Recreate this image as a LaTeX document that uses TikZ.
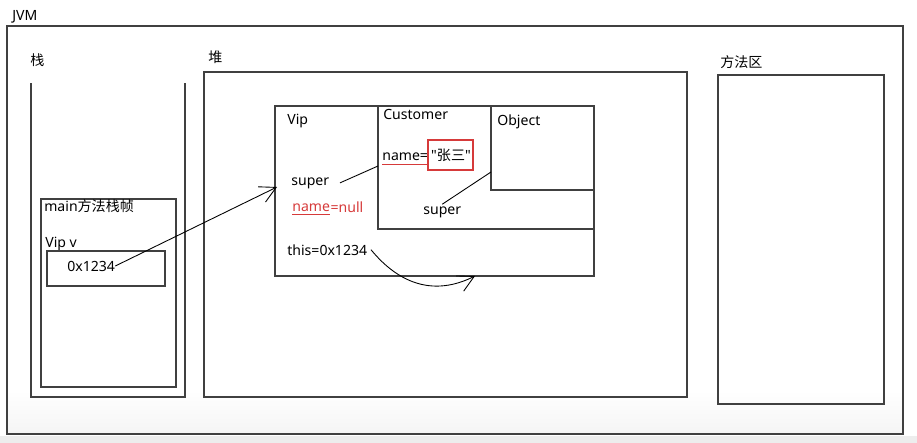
\documentclass[tikz,border=0pt]{standalone}
\usepackage{fontspec}
\setmainfont{Noto Sans}
\newfontfamily\cjk{Noto Sans CJK SC}
\newfontfamily\qfont{Noto Sans}
\usetikzlibrary{positioning,arrows.meta}
\definecolor{rd}{RGB}{214,58,58}
\begin{document}
\begin{tikzpicture}[x=0.02cm,y=-0.02cm,
    box/.style={draw=black!75,line width=0.7pt},
    txt/.style={inner sep=0pt,anchor=base west,font=\fontsize{8}{10}\selectfont},
    redtxt/.style={txt,text=rd},
    link/.style={line width=0.5pt},
    ptr/.style={link,->,>={Straight Barb[length=3.2mm,width=3.4mm]}}]
    \useasboundingbox (0,0) rectangle (917,443);
    \fill[black!7] (0,436) rectangle (917,443);
    \shade[top color=white,bottom color=black!4] (7,390) rectangle (903,434);
    % JVM
    \draw[box] (7,26) rectangle (903,434);
    \node[txt] (jvm) at (12,20) {JVM};
    % stack
    \node[txt] (stk) at (30,65) {\cjk 栈};
    \draw[box] (31,83) -- (31,397) -- (185,397) -- (185,83);
    \draw[box] (41,199) rectangle (176,387);
    \node[txt] (frame) at (44,211) {main\cjk 方法栈帧};
    \node[txt] (varv) at (45,247) {Vip v};
    \draw[box] (47,251) rectangle (165,286);
    \node[txt] (addr) at (67,271) {0x1234};
    % heap
    \node[txt] (hp) at (208,62) {\cjk 堆};
    \draw[box] (204,72) rectangle (687,397);
    \draw[box] (275,106) rectangle (594,276);
    \draw[box] (378,106) rectangle (594,229);
    \draw[box] (491,106) rectangle (594,190);
    \node[txt] (vip) at (287,124) {Vip};
    \node[txt] (cust) at (383,119) {Customer};
    \node[txt] (obj) at (497,125) {Object};
    \node[txt] (sup1) at (291,185) {super};
    \node[redtxt] (nm1) at (292,211) {name};
    \node[redtxt,right=0pt of nm1] (eq1) {=null};
    \draw[rd,link] ([yshift=-2pt]nm1.base west) -- ([yshift=-2pt]nm1.base east);
    \node[txt] (nm2) at (382,160) {name=};
    \draw[rd,link] ([yshift=-2.5pt]nm2.base west) -- ([yshift=-2.5pt,xshift=-1pt]nm2.base east);
    \node[txt,anchor=base] (zs) at (451,160) {{\qfont"}{\cjk 张三}{\qfont"}};
    \draw[rd,line width=0.6pt] (428,140) rectangle (473,170);
    \node[txt] (sup2) at (423,214) {super};
    \node[txt] (this) at (287,255) {this=0x1234};
    % method area
    \node[txt] (ma) at (720,67) {\cjk 方法区};
    \draw[box] (718,75) rectangle (884,404);
    % links
    \coordinate (vipin) at (277,187);
    \coordinate (custL) at (378,166);
    \coordinate (objL) at (491,172);
    \coordinate (back) at (475,276);
    \draw[ptr] (addr.east) -- (vipin);
    \draw[link] ([xshift=6pt]sup1.east) -- (custL);
    \draw[link] (objL) -- ([yshift=1pt]sup2.north);
    \draw[ptr] ([xshift=2pt]this.east) .. controls (400,285) and (435,296) .. (back);
\end{tikzpicture}
\end{document}
